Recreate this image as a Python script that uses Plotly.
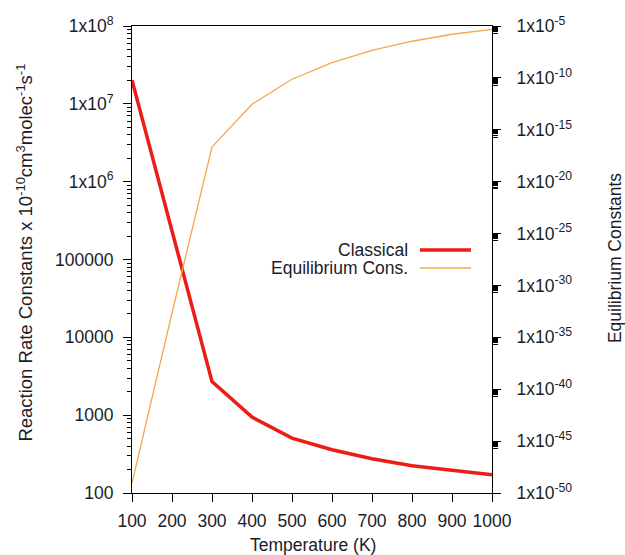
import plotly.graph_objects as go

temperature = [100, 200, 300, 400, 500, 600, 700, 800, 900, 1000]
classical = [2.01e7, 2.3e5, 2700, 944, 507, 359, 275, 224, 195, 172]
equilibrium = [9.1e-50, 2.2e-33, 2.2e-17, 2.9e-13, 7.4e-11, 3.0e-9, 4.6e-8, 3.4e-7, 1.6e-6, 4.8e-6]

left_tickvals = [1e2, 1e3, 1e4, 1e5, 1e6, 1e7, 1e8]
left_ticktext = ["100", "1000", "10000", "100000", "1x10<sup>6</sup>", "1x10<sup>7</sup>", "1x10<sup>8</sup>"]
right_exponents = [-5, -10, -15, -20, -25, -30, -35, -40, -45, -50]
x_tickvals = [100, 200, 300, 400, 500, 600, 700, 800, 900, 1000]

RED = "#ec1c16"
ORANGE = "#f3a94a"
FONT = "Liberation Sans, Arial, sans-serif"
TXT = "#1c1c28"
FS = 17.5

left_minor = [k * 10 ** e for e in range(2, 8) for k in range(2, 10)]
right_tickvals = [10.0 ** e for e in right_exponents]
right_ticktext = ["1x10<sup>%d</sup>" % e for e in right_exponents]
right_minor = [k * 10.0 ** (e - 1) for e in right_exponents[:-1] for k in range(2, 10)]

fig = go.Figure()
fig.add_trace(go.Scatter(x=temperature, y=classical, mode="lines", name="Classical",
                         line=dict(color=RED, width=3.5), yaxis="y"))
fig.add_trace(go.Scatter(x=temperature, y=equilibrium, mode="lines", name="Equilibrium Cons.",
                         line=dict(color=ORANGE, width=1.3), yaxis="y2"))

W, H = 625, 555
L, R, T, B = 132.3, 492.0, 25.7, 493.3
def px_x(p):
    return (p - L) / (R - L)
def px_y(p):
    return (B - p) / (B - T)

fig.update_layout(
    width=W, height=H,
    margin=dict(l=L, r=W - R, t=T, b=H - B, pad=0),
    paper_bgcolor="white", plot_bgcolor="white",
    showlegend=False,
    font=dict(family=FONT, size=FS, color=TXT),
    xaxis=dict(range=[100, 1000], tickvals=x_tickvals, ticks="outside", ticklen=8,
               tickcolor="black", showline=True, linecolor="black", linewidth=1,
               mirror=True, showgrid=False, zeroline=False, ticklabelstandoff=4,
               tickfont=dict(size=FS, color=TXT)),
    yaxis=dict(type="log", range=[2, 8], tickvals=left_tickvals, ticktext=left_ticktext,
               ticks="outside", ticklen=8, tickcolor="black", showline=True,
               linecolor="black", linewidth=1, showgrid=False, zeroline=False,
               tickfont=dict(size=FS, color=TXT), ticklabelstandoff=6,
               minor=dict(tickmode="array", tickvals=left_minor, ticks="outside",
                          ticklen=4, tickcolor="black", showgrid=False)),
    yaxis2=dict(type="log", range=[-50, -5], overlaying="y", side="right",
                tickvals=right_tickvals, ticktext=right_ticktext,
                ticks="outside", ticklen=8, tickcolor="black", showline=True,
                linecolor="black", linewidth=1, showgrid=False, zeroline=False,
                tickfont=dict(size=FS, color=TXT), ticklabelstandoff=12,
                minor=dict(tickmode="array", tickvals=right_minor, ticks="outside",
                           ticklen=5, tickcolor="black", showgrid=False)),
)

annotations = [
    dict(text="Temperature (K)", x=px_x(313), y=px_y(545), xref="paper", yref="paper",
         showarrow=False, font=dict(size=FS, color=TXT), xanchor="center", yanchor="middle"),
    dict(text="Reaction Rate Constants x 10<sup>-10</sup>cm<sup>3</sup>molec<sup>-1</sup>s<sup>-1</sup>",
         x=px_x(25), y=px_y(253), xref="paper", yref="paper", textangle=-90,
         showarrow=False, font=dict(size=18.5, color=TXT), xanchor="center", yanchor="middle"),
    dict(text="Equilibrium Constants", x=px_x(615), y=px_y(258), xref="paper", yref="paper",
         textangle=-90, showarrow=False, font=dict(size=FS, color=TXT),
         xanchor="center", yanchor="middle"),
    dict(text="Classical", x=px_x(410), y=px_y(250), xref="paper", yref="paper",
         showarrow=False, font=dict(size=FS, color=TXT), xanchor="right", yanchor="middle"),
    dict(text="Equilibrium Cons.", x=px_x(410), y=px_y(268), xref="paper", yref="paper",
         showarrow=False, font=dict(size=FS, color=TXT), xanchor="right", yanchor="middle"),
]
fig.update_layout(annotations=annotations)

fig.add_shape(type="line", xref="paper", yref="paper", x0=px_x(420), x1=px_x(471),
              y0=px_y(250), y1=px_y(250), line=dict(color=RED, width=3.5))
fig.add_shape(type="line", xref="paper", yref="paper", x0=px_x(420), x1=px_x(471),
              y0=px_y(268), y1=px_y(268), line=dict(color=ORANGE, width=1.3))

fig.write_html("out.html", config={"displayModeBar": False},
               post_script="document.body.style.margin='0px';document.body.style.overflow='hidden';")
